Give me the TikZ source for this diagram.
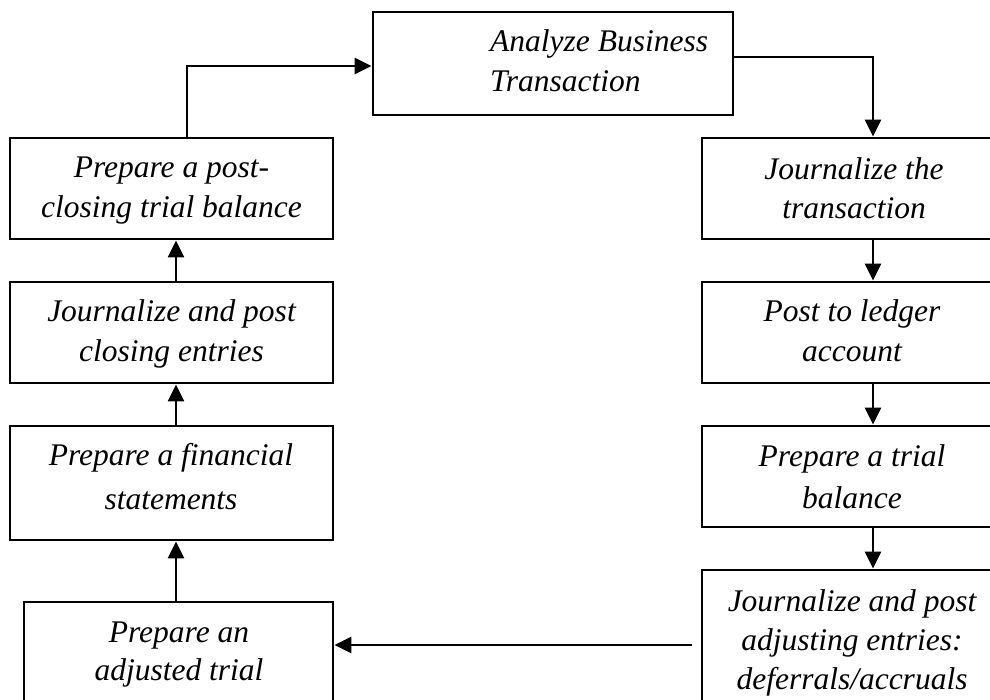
\documentclass[tikz,border=0pt]{standalone}
\usepackage{fontspec}
\setmainfont{Liberation Serif}
\newfontfamily\tnr{Liberation Serif}
\usetikzlibrary{arrows.meta}
\tikzset{
  box/.style={draw, line width=2.8pt, inner sep=0pt},
  txt/.style={inner sep=0pt, align=center, font=\tnr\itshape\fontsize{31.5}{#1}\selectfont},
  arr/.style={line width=2.6pt, -{Triangle[length=17pt,width=16pt]}}
}
\begin{document}
\begin{tikzpicture}[x=1pt,y=-1pt]
\useasboundingbox (0,0) rectangle (990,700);
\clip (0,0) rectangle (990,700);
% boxes
\node[box, minimum width=360pt, minimum height=103pt] (top) at (553,63.5) {};
\node[box, minimum width=300pt, minimum height=101pt] (R1) at (852,188.5) {};
\node[box, minimum width=300pt, minimum height=101pt] (R2) at (852,332.5) {};
\node[box, minimum width=300pt, minimum height=101pt] (R3) at (852,476.5) {};
\node[box, minimum width=300pt, minimum height=200pt] (R4) at (852,670) {};
\node[box, minimum width=323pt, minimum height=101pt] (L1) at (171.5,188.5) {};
\node[box, minimum width=323pt, minimum height=101pt] (L2) at (171.5,332.5) {};
\node[box, minimum width=323pt, minimum height=114pt] (L3) at (171.5,483) {};
\node[box, minimum width=309pt, minimum height=168pt] (L4) at (178.5,686) {};
% texts
\node[txt=40, align=left, anchor=west] (topt) at (490,64) {\strut Analyze Business\\\strut Transaction};
\node[txt=39] (R1t) at (854,191) {\strut Journalize the\\\strut transaction};
\node[txt=40] (R2t) at (852,334) {\strut Post to ledger\\\strut account};
\node[txt=42] (R3t) at (852,478.6) {\strut Prepare a trial\\\strut balance};
\node[txt=39] (R4t) at (852,642.2) {\strut Journalize and post\\\strut adjusting entries:\\\strut deferrals/accruals};
\node[txt=40] (L1t) at (171.5,190) {\strut Prepare a post-\\\strut closing trial balance};
\node[txt=40] (L2t) at (171.5,334) {\strut Journalize and post\\\strut closing entries};
\node[txt=44] (L3t) at (171,478.2) {\strut Prepare a financial\\\strut statements};
\node[txt=38] (L4t) at (179,653.4) {\strut Prepare an\\\strut adjusted trial};
% connectors
\draw[arr] ([xshift=15.5pt]L1.north) |- ([yshift=-2.5pt]top.west);
\draw[arr] ([yshift=6.5pt]top.east) -| ([xshift=21pt]R1.north);
\draw[arr] ([xshift=21pt]R1.south) -- ([xshift=21pt]R2.north);
\draw[arr] ([xshift=21pt]R2.south) -- ([xshift=21pt]R3.north);
\draw[arr] ([xshift=21pt]R3.south) -- ([xshift=21pt]R4.north);
\coordinate (hs) at (692,645);
\draw[arr] (hs) -- (hs -| L4.east);
\draw[arr] ([xshift=4.5pt]L3.south |- L4.north) -- ([xshift=4.5pt]L3.south);
\draw[arr] ([xshift=4.5pt]L3.north) -- ([xshift=4.5pt]L2.south);
\draw[arr] ([xshift=4.5pt]L2.north) -- ([xshift=4.5pt]L1.south);
\end{tikzpicture}
\end{document}
